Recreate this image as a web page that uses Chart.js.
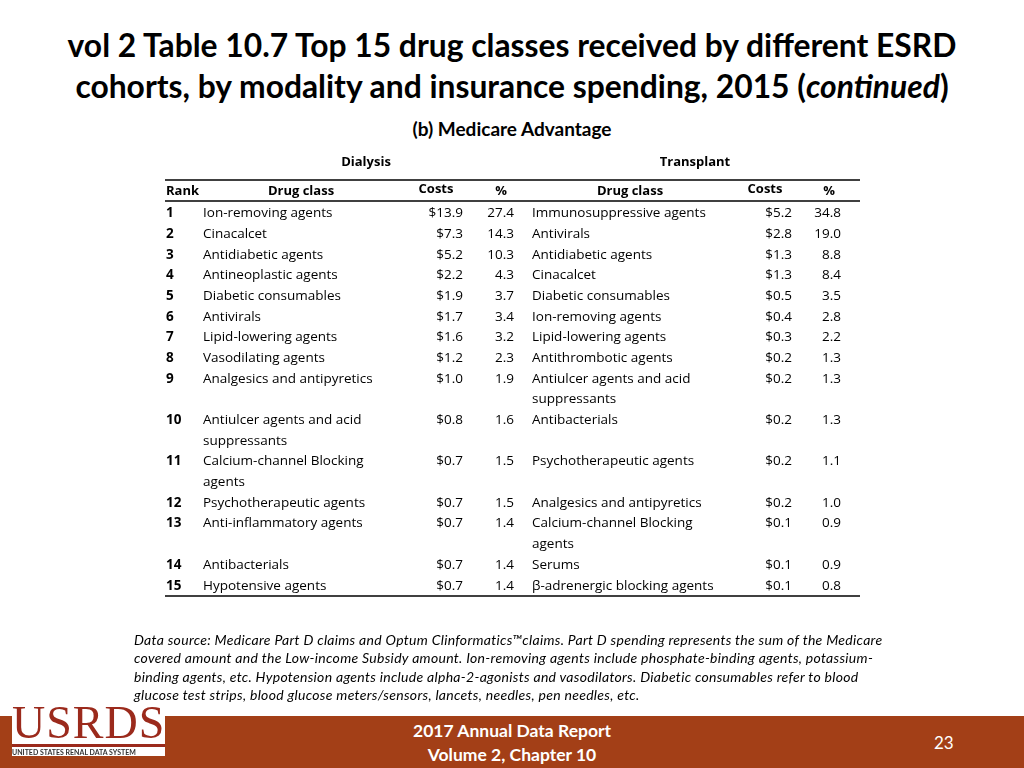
<!DOCTYPE html>
<html><head><meta charset="utf-8">
<script src="https://cdn.jsdelivr.net/npm/chart.js@4"></script>
<style>
body{margin:0;width:1024px;height:768px;position:relative;background:#fff;font-family:Lato,"Open Sans",sans-serif;overflow:hidden}
#t{position:absolute;top:25px;left:0;width:1024px;text-align:center;font-weight:bold;font-size:31.8px;line-height:41px;color:#000}
#sub{position:absolute;top:117px;left:0;width:1024px;text-align:center;font-weight:bold;font-size:19px}
#c{position:absolute;left:0;top:0}
#note{position:absolute;left:134px;top:631px;white-space:nowrap;font-style:italic;font-size:14px;letter-spacing:0.3px;line-height:18.3px}
#bar{position:absolute;left:0;top:716px;width:1024px;height:52px;background:#a33f17}
#bar .a{position:absolute;left:0;width:1024px;text-align:center;color:#fff;font-weight:bold;font-size:17.5px}
#logo{position:absolute;left:12px;top:702px;width:153px;height:54px;background:#fff}
</style></head><body>
<div id="t">vol 2 Table 10.7 Top 15 drug classes received by different ESRD<br>cohorts, by modality and insurance spending, 2015 (<i>continued</i>)</div>
<div id="sub">(b) Medicare Advantage</div>
<canvas id="c" width="1024" height="768"></canvas>
<div id="note">Data source: Medicare Part D claims and Optum Clinformatics™claims. Part D spending represents the sum of the Medicare<br>covered amount and the Low-income Subsidy amount. Ion-removing agents include phosphate-binding agents, potassium-<br>binding agents, etc. Hypotension agents include alpha-2-agonists and vasodilators. Diabetic consumables refer to blood<br>glucose test strips, blood glucose meters/sensors, lancets, needles, pen needles, etc.</div>
<div id="bar"><div class="a" style="top:4px">2017 Annual Data Report</div><div class="a" style="top:28px">Volume 2, Chapter 10</div>
<div style="position:absolute;left:934px;top:16px;color:#fff;font-size:17px">23</div></div>
<div id="logo"><div style="font-family:'Liberation Serif',serif;font-size:46px;color:#9b2a1c;line-height:42px;letter-spacing:1px">USRDS</div>
<div style="border-top:3px solid #9b2a1c;font-size:7px;font-weight:bold;color:#333;padding-top:1px">UNITED STATES RENAL DATA SYSTEM</div></div>
<script>
const ranks=[1,2,3,4,5,6,7,8,9,10,11,12,13,14,15];
const dialysisClasses=["Ion-removing agents","Cinacalcet","Antidiabetic agents","Antineoplastic agents","Diabetic consumables","Antivirals","Lipid-lowering agents","Vasodilating agents","Analgesics and antipyretics","Antiulcer agents and acid\nsuppressants","Calcium-channel Blocking\nagents","Psychotherapeutic agents","Anti-inflammatory agents","Antibacterials","Hypotensive agents"];
const dialysisCosts=[13.9,7.3,5.2,2.2,1.9,1.7,1.6,1.2,1.0,0.8,0.7,0.7,0.7,0.7,0.7];
const dialysisPct=[27.4,14.3,10.3,4.3,3.7,3.4,3.2,2.3,1.9,1.6,1.5,1.5,1.4,1.4,1.4];
const transplantClasses=["Immunosuppressive agents","Antivirals","Antidiabetic agents","Cinacalcet","Diabetic consumables","Ion-removing agents","Lipid-lowering agents","Antithrombotic agents","Antiulcer agents and acid\nsuppressants","Antibacterials","Psychotherapeutic agents","Analgesics and antipyretics","Calcium-channel Blocking\nagents","Serums","β-adrenergic blocking agents"];
const transplantCosts=[5.2,2.8,1.3,1.3,0.5,0.4,0.3,0.2,0.2,0.2,0.2,0.2,0.1,0.1,0.1];
const transplantPct=[34.8,19.0,8.8,8.4,3.5,2.8,2.2,1.3,1.3,1.3,1.1,1.0,0.9,0.9,0.8];

const lineStart=[];let L=0;
ranks.forEach((r,i)=>{lineStart.push(L);L+=Math.max(dialysisClasses[i].split("\n").length,transplantClasses[i].split("\n").length);});
const totalLines=L;

const tablePlugin={id:'tbl',afterDraw(ch){
 const c=ch.ctx,ys=ch.scales.y,a=ch.chartArea;
 c.save();c.fillStyle='#000';c.textBaseline='middle';
 const F='"Open Sans",Lato,sans-serif';
 c.font='bold 13px '+F;c.textAlign='center';
 c.fillText('Dialysis',366,162);c.fillText('Transplant',695,162);
 c.textAlign='left';c.fillText('Rank',166,191);
 c.textAlign='center';
 c.fillText('Drug class',301,191);c.fillText('Costs',436,189);c.fillText('%',501,191);
 c.fillText('Drug class',630,191);c.fillText('Costs',765,189);c.fillText('%',829,191);
 c.strokeStyle='#000';c.lineWidth=1.3;
 [180,201,a.bottom].forEach(y=>{c.beginPath();c.moveTo(a.left,y);c.lineTo(a.right,y);c.stroke();});
 ranks.forEach((r,i)=>{
  const y=ys.getPixelForValue(lineStart[i]+0.5),lh=ys.getPixelForValue(1)-ys.getPixelForValue(0);
  c.font='bold 13.5px '+F;c.textAlign='left';c.fillText(String(r),166,y);
  c.font='13.5px '+F;
  dialysisClasses[i].split("\n").forEach((s,k)=>c.fillText(s,203,y+k*lh));
  transplantClasses[i].split("\n").forEach((s,k)=>c.fillText(s,532,y+k*lh));
  c.textAlign='right';
  c.fillText('$'+dialysisCosts[i].toFixed(1),463,y);c.fillText(dialysisPct[i].toFixed(1),514,y);
  c.fillText('$'+transplantCosts[i].toFixed(1),792,y);c.fillText(transplantPct[i].toFixed(1),841,y);
 });
 c.restore();
}};
new Chart(document.getElementById('c'),{type:'scatter',data:{datasets:[{data:[]}]},
 options:{responsive:false,animation:false,events:[],
  layout:{padding:{left:165,right:164,top:203,bottom:172}},
  plugins:{legend:{display:false},tooltip:{enabled:false}},
  scales:{x:{display:false,min:0,max:1},y:{display:false,min:0,max:totalLines,reverse:true}}},
 plugins:[tablePlugin]});
</script>
</body></html>
